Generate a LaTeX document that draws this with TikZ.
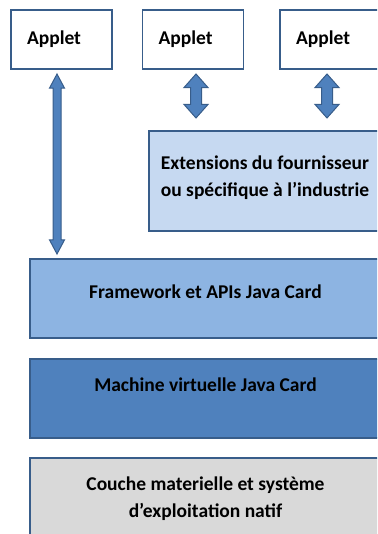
\documentclass[tikz,border=0pt]{standalone}
\usepackage{fontspec}
\setmainfont{Carlito}
\usetikzlibrary{shapes.arrows,calc}

\definecolor{edgeblue}{HTML}{385D8A}
\definecolor{extblue}{HTML}{C6D9F1}
\definecolor{fwblue}{HTML}{8DB4E2}
\definecolor{jvmblue}{HTML}{4F81BD}
\definecolor{osgrey}{HTML}{D9D9D9}

\begin{document}
\begin{tikzpicture}[x=1pt,y=-1pt,
    layer/.style={draw=edgeblue,line width=1.5pt,align=center,
      font=\fontsize{19.5}{27}\selectfont\bfseries,inner sep=0pt},
    applet/.style={layer,fill=white,minimum height=59pt,text width=69pt,
      inner xsep=16pt,align=left},
    link/.style={double arrow,draw=edgeblue,fill=jvmblue,line width=1pt,
      rotate=90,inner xsep=0pt}]

  \useasboundingbox (0,0) rectangle (377,534);
  \clip (0,0) rectangle (377,534);

  % Applets
  \node[applet] (AppletA) at (61.5,39.5) {Applet};
  \node[applet] (AppletB) at (193,39.5) {Applet};
  \node[applet] (AppletC) at (330.5,39.5) {Applet};

  % Layers
  \node[layer,fill=extblue,minimum width=232pt,minimum height=100pt,text depth=10pt]
    (Extensions) at (265,181) {Extensions du fournisseur\\ou spécifique à l’industrie};
  \node[layer,fill=fwblue,minimum width=351pt,minimum height=79pt,text depth=14pt]
    (Framework) at (205.5,298.5) {Framework et APIs Java Card};
  \node[layer,fill=jvmblue,minimum width=351pt,minimum height=79pt,text depth=27pt]
    (Machine) at (205.5,398.5) {Machine virtuelle Java Card};
  \node[layer,fill=osgrey,minimum width=351pt,minimum height=82pt]
    (Couche) at (205.5,499) {Couche materielle et système\\d’exploitation natif};

  % Links
  \node[link,minimum height=180pt,inner ysep=3.5pt,double arrow head extend=3.5pt,
    double arrow tip angle=56] (LinkA)
    at ($(AppletA.south)!0.5!(AppletA.south |- Framework.north)+(-4.5,0)$) {};
  \node[link,minimum height=44pt,inner ysep=5pt,double arrow head extend=6.5pt,
    double arrow tip angle=83] (LinkB)
    at ($(AppletB.south)!0.5!(AppletB.south |- Extensions.north)+(3,-4)$) {};
  \node[link,minimum height=44pt,inner ysep=5pt,double arrow head extend=6.5pt,
    double arrow tip angle=83] (LinkC)
    at ($(AppletC.south)!0.5!(AppletC.south |- Extensions.north)+(-3.5,-4)$) {};

\end{tikzpicture}
\end{document}
